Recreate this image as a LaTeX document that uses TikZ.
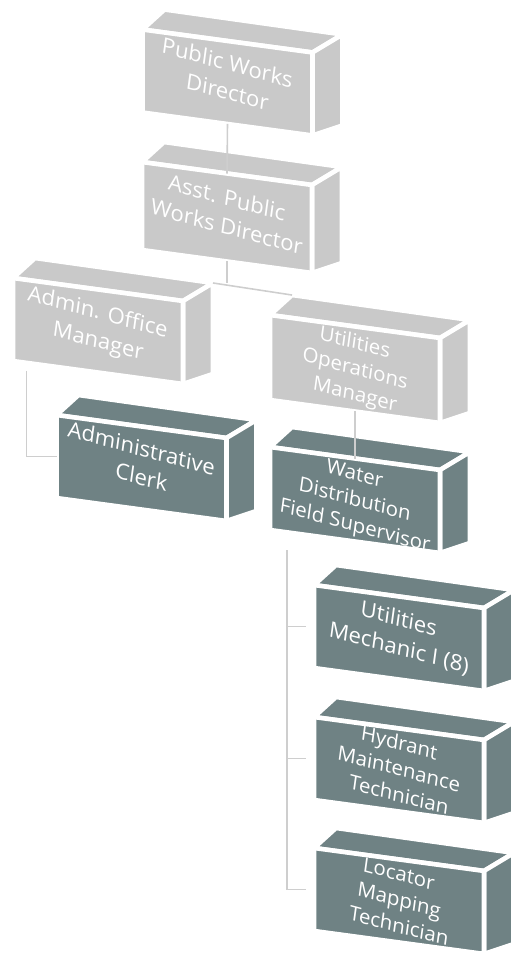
\documentclass[tikz,border=0pt]{standalone}
\usepackage{fontspec}
\setmainfont{Open Sans}
\usetikzlibrary{positioning,calc,backgrounds}
\definecolor{boxgray}{RGB}{201,201,201}
\definecolor{boxslate}{RGB}{111,130,132}
\definecolor{linegray}{RGB}{206,206,206}
\tikzset{
  face/.style={draw=white,line width=2.6pt,line join=miter},
  orgbox/.style={face,minimum width=3.4cm,minimum height=1.66cm,inner sep=0pt,
    outer sep=0pt,yslant=-0.135,align=center,text=white,
    font=\fontsize{12.5}{16.5}\selectfont\def\tlraise{-1.5pt}},
  three/.style={font=\fontsize{11.6}{14.8}\selectfont\def\tlraise{-3.4pt}},
  gbox/.style={orgbox,fill=boxgray},
  dbox/.style={orgbox,fill=boxslate},
  conn/.style={draw=linegray,line width=0.9pt},
}
% one label line, tilted like the front face
\newcommand{\tl}[1]{\smash{\raisebox{\tlraise}{\rotatebox[origin=c]{-7.7}{#1}}}}
% top and right faces of a box node, behind it
\newcommand{\drawfaces}[2]{%
  \begin{pgfonlayer}{background}
  \filldraw[face,fill=#2] (#1.north west) -- (#1.north east) -- ++(30,-18)
    -- ($(#1.north west)+(22,-20)$) -- cycle;
  \filldraw[face,fill=#2] (#1.north east) -- ++(30,-18)
    -- ($(#1.south east)+(30,-10)$) -- (#1.south east) -- cycle;
  \end{pgfonlayer}
}

\begin{document}
\begin{tikzpicture}[x=0.02cm,y=-0.02cm]
  \useasboundingbox (0,0) rectangle (510,959);
  \node[gbox] (pwd) at (227.5,82.5) {\tl{Public Works}\\\tl{Director}};
  \drawfaces{pwd}{boxgray}
  \node[gbox,minimum height=1.76cm] (apwd) at (227,217.5)
    {\tl{Asst. Public}\\\tl{Works Director}};
  \drawfaces{apwd}{boxgray}
  \node[gbox] (aom) at (98,331) {\tl{Admin. Office}\\\tl{Manager}};
  \drawfaces{aom}{boxgray}
  \node[gbox,three,minimum height=1.7cm] (uom) at (355,369)
    {\tl{Utilities}\\\tl{Operations}\\\tl{Manager}};
  \drawfaces{uom}{boxgray}
  \node[dbox] (clerk) at (141.5,468) {\tl{Administrative}\\\tl{Clerk}};
  \drawfaces{clerk}{boxslate}
  \node[dbox,three] (wds) at (355,500)
    {\tl{Water}\\\tl{Distribution}\\\tl{Field Supervisor}};
  \drawfaces{wds}{boxslate}
  \node[dbox] (um) at (399,638) {\tl{Utilities}\\\tl{Mechanic I (8)}};
  \drawfaces{um}{boxslate}
  \node[dbox,three,below=0.98cm of um] (hmt)
    {\tl{Hydrant}\\\tl{Maintenance}\\\tl{Technician}};
  \drawfaces{hmt}{boxslate}
  \node[dbox,three,below=0.96cm of hmt] (lmt)
    {\tl{Locator}\\\tl{Mapping}\\\tl{Technician}};
  \drawfaces{lmt}{boxslate}

  % connectors
  \coordinate (busl) at ($(aom.north east)+(30,-18)$);
  \coordinate (busr) at ($(uom.north west)+(22,-20)$);
  \coordinate (trunk) at ($(wds.south west)!0.1!(wds.south east)+(0,18)$);
  \draw[conn] (pwd.south) -- (apwd.north);
  \draw[conn] (apwd.south) -- ++(0,22);
  \draw[conn] (busl) -- (busr);
  \draw[conn] ($(aom.south west)!0.08!(aom.south east)+(0,8)$) |- (clerk.west);
  \draw[conn] (uom.south) -- (wds.north);
  \foreach \c in {um,hmt,lmt}
    \draw[conn,shorten >=4.5pt] (trunk) |- (\c.west);
\end{tikzpicture}
\end{document}
